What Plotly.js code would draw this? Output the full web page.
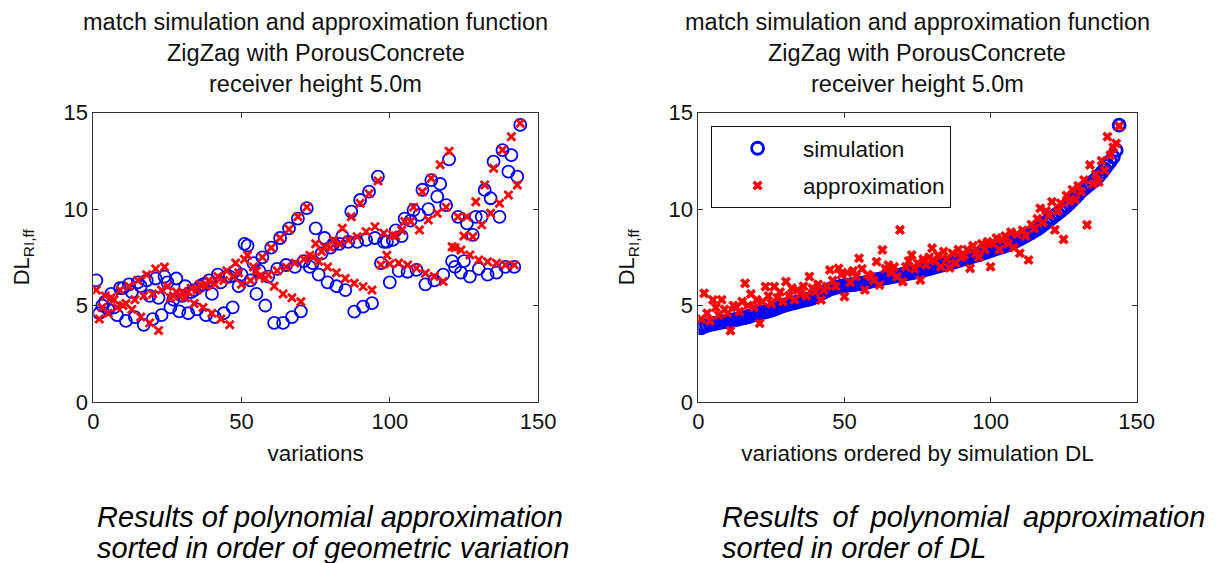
<!DOCTYPE html>
<html><head><meta charset="utf-8">
<script src="https://cdn.plot.ly/plotly-3.0.1.min.js"></script>
<style>html,body{margin:0;padding:0;background:#fff;} #chart{width:1217px;height:563px;}</style>
</head><body><div id="chart"></div>
<script>
// ---------- Left panel: ordered by geometric variation ----------
const leftSim = [
  6.3,4.6,5.0, 5.2,4.8,5.6, 4.9,4.5,5.9, 5.9,4.2,6.1, 5.7,4.4,6.2, 6.0,4.0,6.3, 5.5,4.3,6.4, 5.4,4.5,6.5,
  6.2,4.9,5.3, 6.4,4.7,5.5, 6.0,4.6,5.7, 5.8,4.8,6.0, 6.1,4.5,6.3, 5.6,4.4,6.6, 6.2,4.6,6.5, 6.5,4.9,6.8,
  6.0,6.6,8.2, 8.1,6.3,7.2, 5.6,6.8,7.5, 5.0,6.5,8.0, 4.1,6.9,8.5, 4.1,7.1,9.0, 4.4,7.0,9.5, 4.7,7.3,10.05,
  7.0,7.2,9.0, 6.6,7.7,8.5, 6.2,8.0,8.2, 6.0,8.2,8.6, 5.8,8.3,9.87, 4.68,8.3,10.47, 4.94,8.4,10.9, 5.12,8.5,11.68,
  7.2,8.3,8.3, 6.2,8.4,8.9, 6.8,8.6,9.5, 6.75,9.4,9.95, 6.85,9.7,11.0, 6.1,10.0,11.5, 6.3,10.64,11.3, 6.6,10.2,12.58,
  7.3,7.0,9.6, 6.7,7.3,9.26, 6.5,8.66,9.6, 6.9,9.6,10.99, 6.6,10.56,12.46, 6.7,9.6,13.06, 7.0,11.94,12.8, 7.0,11.68,14.36
];
const leftApprox = [
  5.8,4.3,4.9, 5.5,4.6,5.4, 5.3,4.9,5.8, 5.0,5.1,6.0, 4.8,5.3,6.3, 4.4,5.5,6.6, 4.1,5.6,6.9, 3.7,5.8,7.0,
  6.0,5.4,5.5, 5.7,5.5,5.7, 5.4,5.7,5.9, 5.1,5.8,6.1, 4.9,6.0,6.3, 4.6,6.1,6.5, 4.3,6.3,6.8, 4.0,6.5,7.2,
  6.7,6.1,7.4, 7.6,6.3,7.0, 6.8,6.5,7.5, 6.4,6.6,8.0, 6.0,6.8,8.5, 5.6,7.0,8.95, 5.4,7.2,9.6, 5.2,7.4,10.1,
  7.6,7.5,8.2, 7.3,7.8,8.05, 7.0,8.0,8.4, 6.7,8.2,9.0, 6.4,8.4,9.6, 6.15,8.57,10.3, 5.98,8.83,10.8, 5.8,9.09,11.45,
  7.1,8.75,7.6, 7.15,8.66,8.6, 7.2,8.9,9.35, 7.1,9.35,10.1, 6.93,8.92,10.9, 6.67,9.43,11.6, 6.5,9.78,12.3, 6.24,10.1,13.0,
  8.05,8.0,9.6, 7.88,8.6,9.6, 7.62,8.57,10.38, 7.36,9.18,11.25, 7.27,9.78,12.11, 7.19,10.3,13.06, 7.1,10.73,13.75, 7.1,11.25,14.45
];

// ---------- Right panel: ordered by simulation DL ----------
const sortedSim = [
  3.85,3.92,3.97,4.01,4.05,4.08,4.12,4.14,4.17,4.20,
  4.23,4.26,4.28,4.31,4.35,4.38,4.42,4.47,4.52,4.57,
  4.61,4.64,4.68,4.72,4.76,4.82,4.87,4.93,4.99,5.04,
  5.08,5.12,5.15,5.19,5.23,5.27,5.30,5.34,5.39,5.44,
  5.55,5.62,5.70,5.78,5.85,5.90,5.94,5.97,6.00,6.03,
  6.05,6.07,6.09,6.11,6.13,6.15,6.18,6.22,6.26,6.30,
  6.34,6.37,6.40,6.43,6.46,6.49,6.52,6.55,6.58,6.61,
  6.64,6.67,6.70,6.73,6.76,6.80,6.84,6.88,6.92,6.96,
  7.00,7.04,7.08,7.12,7.16,7.20,7.24,7.28,7.33,7.38,
  7.42,7.46,7.50,7.55,7.60,7.65,7.70,7.75,7.80,7.85,
  7.90,7.95,8.00,8.05,8.10,8.16,8.23,8.30,8.37,8.45,
  8.53,8.61,8.69,8.78,8.87,8.97,9.07,9.18,9.30,9.42,
  9.54,9.66,9.78,9.90,10.02,10.16,10.30,10.45,10.60,10.76,
  10.92,11.05,11.18,11.30,11.42,11.55,11.70,11.88,12.08,12.28,
  12.48,12.70,13.05,14.35
];
const sortedApprox = [
  4.3,5.63,4.6,4.2,5.29,4.9,4.5,5.3,4.8,4.6,
  3.7,5.0,4.9,4.68,5.2,6.15,5.0,5.6,4.9,5.3,
  4.08,5.2,5.98,5.5,5.1,5.98,5.4,5.7,5.2,6.24,
  5.5,5.9,5.3,5.8,5.6,6.0,5.5,6.5,5.9,5.7,
  6.1,5.29,5.8,6.0,6.84,6.3,6.0,6.93,6.6,5.46,
  6.7,6.2,6.8,6.5,7.45,6.9,5.81,6.6,6.5,6.3,
  7.27,6.06,7.88,6.9,7.1,6.7,7.0,6.5,8.92,6.24,
  7.0,7.3,7.62,6.9,7.2,6.32,7.4,7.1,7.5,7.97,
  7.3,7.6,7.0,7.8,7.4,6.95,7.7,7.2,7.9,7.5,
  7.6,7.9,6.93,8.1,7.7,7.5,8.2,7.9,8.3,7.01,
  8.2,8.5,7.9,8.4,8.6,8.2,8.8,8.0,8.7,7.71,
  8.9,8.6,7.36,9.2,9.0,9.5,10.04,9.3,9.9,9.7,
  10.38,8.92,9.9,10.3,8.43,10.7,10.4,11.0,10.5,11.2,
  10.9,11.5,9.18,12.29,11.3,11.8,11.4,12.5,12.0,13.75,
  12.8,13.2,13.4,14.3
];

const xTicks = [0, 50, 100, 150];
const yTicks = [0, 5, 10, 15];
const seriesNames = ['simulation', 'approximation'];
const titleLines = ['match simulation and approximation function', 'ZigZag with PorousConcrete', 'receiver height 5.0m'];
const xTitles = ['variations', 'variations ordered by simulation DL'];
const yTitle = 'DL<sub>RI,ff</sub>';
const captionsLeft = ['Results of polynomial approximation', 'sorted in order of geometric variation'];
const captionsRight = ['Results \u2009of \u2009polynomial \u2009approximation', 'sorted in order of DL'];

const idxLeft = leftSim.map((_, i) => i + 1);
const idxRight = sortedSim.map((_, i) => i + 1);

const FONT = 'Liberation Sans, Arial, sans-serif';
const BLUE = '#0000ff', RED = '#ff0000';

const traces = [
  {x: idxLeft, y: leftSim, type: 'scatter', mode: 'markers', name: seriesNames[0], showlegend: false,
   xaxis: 'x', yaxis: 'y', marker: {symbol: 'circle-open', size: 12, color: BLUE, line: {width: 1.8, color: BLUE}}},
  {x: idxLeft, y: leftApprox, type: 'scatter', mode: 'markers', name: seriesNames[1], showlegend: false,
   xaxis: 'x', yaxis: 'y', marker: {symbol: 'x-thin-open', size: 8, color: RED, line: {width: 2.8, color: RED}}},
  {x: idxRight, y: sortedSim, type: 'scatter', mode: 'markers', name: seriesNames[0], legendgroup: 'a',
   xaxis: 'x2', yaxis: 'y2', marker: {symbol: 'circle-open', size: 12, color: BLUE, line: {width: 2.8, color: BLUE}}},
  {x: idxRight, y: sortedApprox, type: 'scatter', mode: 'markers', name: seriesNames[1], legendgroup: 'b',
   xaxis: 'x2', yaxis: 'y2', marker: {symbol: 'x', size: 9, color: RED, line: {width: 0}}}
];

function xax(domain, title) {
  return {domain: domain, range: [0, 150], tickvals: xTicks, ticks: 'inside', ticklen: 5, tickcolor: '#333',
    showline: true, mirror: 'ticks', linecolor: '#333', linewidth: 1, showgrid: false, zeroline: false,
    tickfont: {family: FONT, size: 22, color: '#111'},
    title: {text: title, font: {family: FONT, size: 22.5, color: '#111'}, standoff: 11}};
}
function yax(domain, anchor) {
  return {domain: domain, range: [0, 15], tickvals: yTicks, ticks: 'inside', ticklen: 5, tickcolor: '#333',
    showline: true, mirror: 'ticks', linecolor: '#333', linewidth: 1, showgrid: false, zeroline: false,
    anchor: anchor, tickfont: {family: FONT, size: 22, color: '#111'},
    title: {text: yTitle, font: {family: FONT, size: 22, color: '#111'}, standoff: 27}};
}

const yDom = [0.286, 0.800];
const annotations = [];
const centers = [0.2594, 0.7539];
const lineY = [0.961, 0.906, 0.851];
centers.forEach(cx => titleLines.forEach((t, i) => annotations.push({
  xref: 'paper', yref: 'paper', x: cx, y: lineY[i], xanchor: 'center', yanchor: 'middle', showarrow: false,
  text: t, font: {family: FONT, size: 23.5, color: '#111'}})));
const capY = [0.0817, 0.0266];
captionsLeft.forEach((t, i) => annotations.push({xref: 'paper', yref: 'paper', x: 0.0781, y: capY[i],
  xanchor: 'left', yanchor: 'middle', showarrow: false, text: t,
  font: {family: FONT, size: 29, color: '#000', style: 'italic'}}));
captionsRight.forEach((t, i) => annotations.push({xref: 'paper', yref: 'paper', x: 0.5916, y: capY[i],
  xanchor: 'left', yanchor: 'middle', showarrow: false, text: t,
  font: {family: FONT, size: 29, color: '#000', style: 'italic'}}));

const layout = {
  width: 1217, height: 563, margin: {l: 0, r: 0, t: 0, b: 0},
  paper_bgcolor: '#fff', plot_bgcolor: '#fff',
  xaxis: xax([0.0767, 0.4421], xTitles[0]),
  yaxis: yax(yDom, 'x'),
  xaxis2: Object.assign(xax([0.5738, 0.9340], xTitles[1]), {anchor: 'y2'}),
  yaxis2: yax(yDom, 'x2'),
  showlegend: true,
  legend: {x: 0.5843, y: 0.776, xanchor: 'left', yanchor: 'top', bgcolor: '#fff', bordercolor: '#111',
    borderwidth: 1, font: {family: FONT, size: 22.5, color: '#111'}, itemwidth: 81,
    traceorder: 'grouped', tracegroupgap: 5},
  annotations: annotations
};

Plotly.newPlot('chart', traces, layout, {staticPlot: true, displayModeBar: false});
</script>
</body></html>
